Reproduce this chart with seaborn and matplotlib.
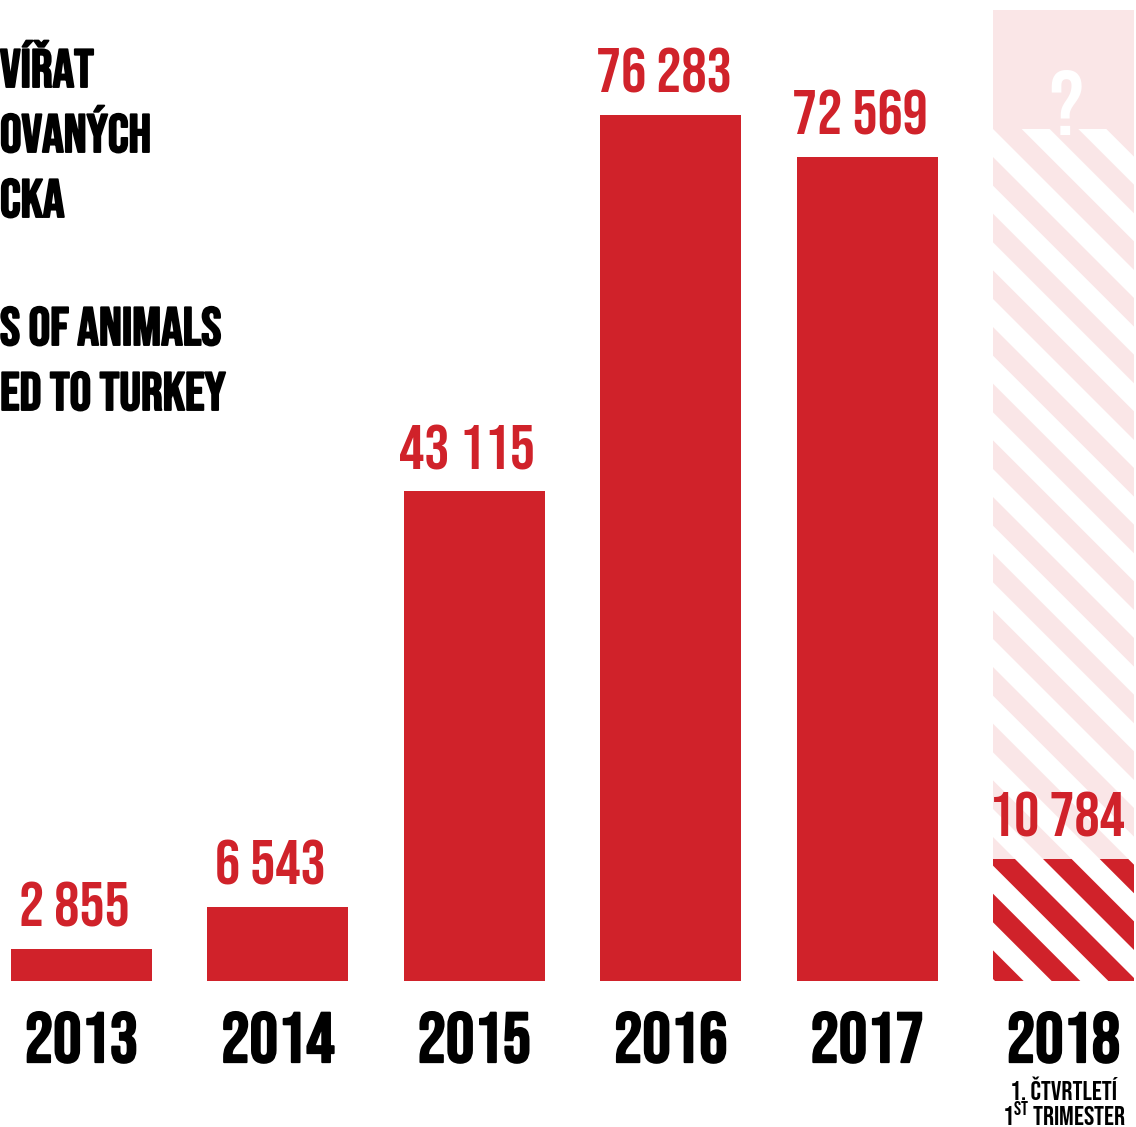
import matplotlib
matplotlib.use('Agg')
import matplotlib.pyplot as plt
import matplotlib.patheffects as pe
import seaborn as sns
import pandas as pd

# data
years = ['2013', '2014', '2015', '2016', '2017', '2018']
animals = [2855, 6543, 43115, 76283, 72569, 10784]
unknown_year = ['2018']
unknown_full = [85500]      # pale column standing for the rest of 2018
unknown_striped = [75000]   # striped lower part of that column
title_cz = ['VÍŘAT', 'OVANÝCH', 'CKA']
title_en = ['S OF ANIMALS', 'ED TO TURKEY']
note_2018 = ['1. ČTVRTLETÍ', '1$^{\\mathrm{ST}}$ TRIMESTER']

RED = '#d0222a'
PALE = '#fae6e7'
FONT = ['Bebas Neue', 'Liberation Sans Narrow', 'DejaVu Sans']
DPI = 340  # hatch cell follows dpi, stripes come out ~57px apart

sns.set_theme(style='white')
plt.rcParams['font.family'] = FONT
plt.rcParams['mathtext.fontset'] = 'custom'
plt.rcParams['mathtext.rm'] = 'Bebas Neue'
plt.rcParams['mathtext.bf'] = 'Bebas Neue'
plt.rcParams['hatch.linewidth'] = 4.2

heavy = [pe.withStroke(linewidth=0.4, foreground='black')]

df = pd.DataFrame({'year': years, 'animals': animals})
df_unknown = pd.DataFrame({'year': unknown_year, 'full': unknown_full, 'striped': unknown_striped})

fig = plt.figure(figsize=(1136 / DPI, 1127 / DPI), dpi=DPI)
fig.patch.set_facecolor('white')
ax = fig.add_axes([0, 146 / 1127, 1, 981 / 1127])
ax.set_facecolor('white')

bar_w = 0.718
common = dict(order=years, width=bar_w, saturation=1, errorbar=None, linewidth=0, ax=ax)

# pale placeholder column
sns.barplot(data=df_unknown, x='year', y='full', color=PALE, **common)
n0 = len(ax.patches)
sns.barplot(data=df_unknown, x='year', y='striped', color=PALE, **common)
for p in ax.patches[n0:]:
    p.set_edgecolor('white')
    p.set_hatch('\\\\')

# real counts
n1 = len(ax.patches)
sns.barplot(data=df, x='year', y='animals', color=RED, **common)
red_bars = ax.patches[n1:]
red_bars[-1].set_edgecolor('white')
red_bars[-1].set_hatch('\\\\')

ax.set_xlim(-0.415, 5.369)
ax.set_ylim(0, 86400)
ax.set_xlabel('')
ax.set_ylabel('')
ax.set_yticks([])
sns.despine(ax=ax, left=True, bottom=True)
ax.tick_params(axis='x', length=0, pad=6.5, labelsize=15, labelcolor='black')
for t in ax.get_xticklabels():
    t.set_path_effects(heavy)

# value labels
for i, v in enumerate(animals):
    ax.annotate(f'{v:,}'.replace(',', ' '), xy=(i, v), xytext=(-1.5, 4.7),
                textcoords='offset points', ha='center', va='baseline',
                fontsize=13.3, color=RED)

# question mark in the pale column
ax.annotate('?', xy=(years.index(unknown_year[0]), unknown_full[0]), xytext=(0.5, -26.5),
            textcoords='offset points', ha='center', va='baseline',
            fontsize=19.5, color='white')

# note under 2018
for k, line in enumerate(note_2018):
    ax.annotate(line, xy=(years.index('2018'), 0), xytext=(0, -25.2 - 5.6 * k),
                textcoords='offset points', ha='center', va='baseline',
                fontsize=5.8, color='black', annotation_clip=False)

# title fragments, starting at the left edge as in the original
baselines = [87, 152, 217, 345, 410]
for line, yb in zip(title_cz + title_en, baselines):
    fig.text(0.0, 1 - yb / 1127, line, ha='left', va='baseline',
             fontsize=11.4, color='black', path_effects=heavy)

fig.savefig('out.png', dpi=DPI, facecolor='white')
plt.close(fig)
